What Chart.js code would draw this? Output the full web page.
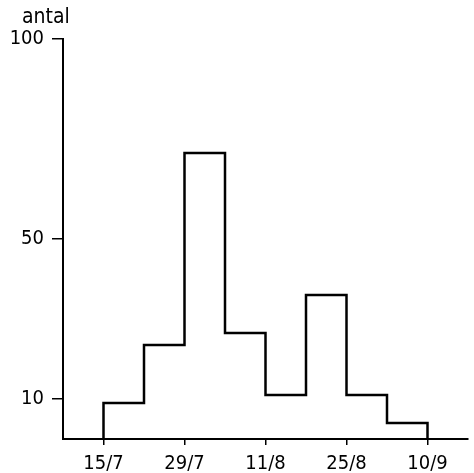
<!DOCTYPE html>
<html>
<head>
<meta charset="utf-8">
<script src="https://cdn.jsdelivr.net/npm/chart.js@4"></script>
<style>
  html, body { margin: 0; padding: 0; background: #fff; }
  #wrap { width: 474px; height: 473px; }
</style>
</head>
<body>
<div id="wrap"><canvas id="histChart"></canvas></div>
<script>
// weekly counts, one bar per week starting 15/7
var weeks = [0, 1, 2, 3, 4, 5, 6, 7];
var counts = [9, 23.5, 71.5, 26.5, 11, 36, 11, 4];
var dateTicks = [0, 2, 4, 6, 8];
var dateLabels = ['15/7', '29/7', '11/8', '25/8', '10/9'];
var yTicks = [10, 50, 100];
var yLabel = 'antal';

// outline of the histogram as a stepped line
var points = [{ x: weeks[0], y: 0 }];
weeks.forEach(function (w, i) {
    points.push({ x: w, y: counts[i] });
});
var lastX = weeks[weeks.length - 1] + 1;
points.push({ x: lastX, y: counts[counts.length - 1] });
points.push({ x: lastX, y: 0 });

var fontFamily = '"DejaVu Sans Condensed", "DejaVu Sans", sans-serif';

// "antal" above the y axis
var axisTitle = {
    id: 'axisTitle',
    afterDraw: function (chart) {
        var c = chart.ctx;
        c.save();
        c.font = '21px ' + fontFamily;
        c.fillStyle = '#000';
        c.textBaseline = 'alphabetic';
        c.fillText(yLabel, 22, 23);
        c.restore();
    }
};

new Chart(document.getElementById('histChart').getContext('2d'), {
    type: 'line',
    data: {
        datasets: [{
            data: points,
            stepped: true,
            borderColor: '#000',
            borderWidth: 2.5,
            pointRadius: 0,
            fill: false
        }]
    },
    options: {
        responsive: true,
        maintainAspectRatio: false,
        animation: false,
        layout: { padding: { top: 39, right: 6, left: 0, bottom: 0 } },
        plugins: { legend: { display: false }, tooltip: { enabled: false } },
        scales: {
            x: {
                type: 'linear',
                min: -1,
                max: 9,
                afterBuildTicks: function (scale) {
                    scale.ticks = dateTicks.map(function (v) { return { value: v }; });
                },
                afterFit: function (scale) { scale.height = 34; },
                border: { display: true, color: '#000', width: 2 },
                grid: { drawOnChartArea: false, drawTicks: true, tickLength: 6, color: '#000', lineWidth: 1.5 },
                ticks: {
                    color: '#000',
                    padding: 7,
                    maxRotation: 0,
                    font: { family: fontFamily, size: 20 },
                    callback: function (v) {
                        var i = dateTicks.indexOf(v);
                        return i >= 0 ? dateLabels[i] : '';
                    }
                }
            },
            y: {
                min: 0,
                max: 100,
                afterBuildTicks: function (scale) {
                    scale.ticks = yTicks.map(function (v) { return { value: v }; });
                },
                afterFit: function (scale) { scale.width = 63; },
                border: { display: true, color: '#000', width: 2 },
                grid: { drawOnChartArea: false, drawTicks: true, tickLength: 11, color: '#000', lineWidth: 1.5 },
                ticks: {
                    color: '#000',
                    padding: 8,
                    font: { family: fontFamily, size: 20 }
                }
            }
        }
    },
    plugins: [axisTitle]
});
</script>
</body>
</html>
